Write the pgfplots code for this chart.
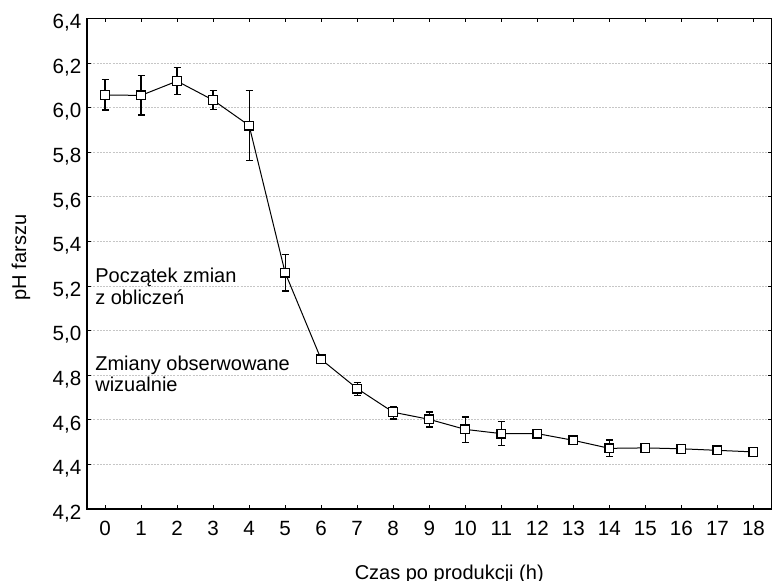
\documentclass[border=0pt]{standalone}
\usepackage{pgfplots}
\pgfplotsset{compat=1.18}
\usepackage{pgfplotstable}
\usepackage{fontspec}
\setmainfont{Liberation Sans}

\pgfplotstableread{
x y ep em
0 6.057 0.068 0.067
1 6.055 0.088 0.088
2 6.119 0.060 0.059
3 6.034 0.043 0.042
4 5.920 0.157 0.158
5 5.260 0.080 0.082
6 4.871 0.012 0.012
7 4.740 0.028 0.032
8 4.634 0.023 0.030
9 4.602 0.033 0.034
10 4.557 0.056 0.057
11 4.538 0.055 0.052
12 4.538 0.010 0.010
13 4.508 0.008 0.008
14 4.472 0.037 0.037
15 4.474 0.010 0.010
16 4.470 0.005 0.005
17 4.463 0.005 0.005
18 4.456 0.005 0.005
}\datatable

\begin{document}
\begin{tikzpicture}
\begin{axis}[
  scale only axis,
  width=342.25pt, height=245.25pt,
  xmin=-0.5, xmax=18.5,
  ymin=4.2, ymax=6.4,
  xtick={0,1,...,18},
  ytick={4.2,4.4,4.6,4.8,5.0,5.2,5.4,5.6,5.8,6.0,6.2,6.4},
  /pgf/number format/assume math mode=true,
  yticklabel style={/pgf/number format/fixed, /pgf/number format/fixed zerofill, /pgf/number format/precision=1, /pgf/number format/use comma},
  tick align=inside,
  major tick length=2pt,
  tick style={black, line width=0.5pt},
  axis line style={black, line width=0.6pt},
  ymajorgrids,
  grid style={gray!45, line width=0.5pt, dash pattern=on 1pt off 0.6pt},
  tick label style={font=\fontsize{10.3}{12}\selectfont},
  xticklabel style={anchor=base, yshift=-13.5pt, inner sep=0pt},
  yticklabel style={anchor=base east, inner sep=0pt, xshift=-2.65pt, yshift=-5.1pt},
  xlabel={Czas po produkcji (h)},
  ylabel={pH farszu},
  label style={font=\fontsize{10}{12}\selectfont},
  every axis x label/.style={at={(axis description cs:0.5,0)}, anchor=base, yshift=-35.15pt, xshift=10pt},
  every axis y label/.style={at={(axis description cs:-0.0964,0.513)}, anchor=center, rotate=90},
]
\addplot[black, line width=0.5pt, mark=square*, mark size=2.2pt,
  mark options={fill=white, draw=black, line width=0.6pt},
  error bars/.cd, y dir=both, y explicit,
  error bar style={black, line width=0.6pt},
  error mark options={rotate=90, mark size=1.75pt, black, line width=0.6pt}]
  table[x=x, y=y, y error plus=ep, y error minus=em] {\datatable};
\node[anchor=base west, inner sep=0pt, font=\fontsize{10}{12}\selectfont] at (axis cs:-0.28,5.215) {Początek zmian};
\node[anchor=base west, inner sep=0pt, font=\fontsize{10}{12}\selectfont] at (axis cs:-0.28,5.115) {z obliczeń};
\node[anchor=base west, inner sep=0pt, font=\fontsize{10}{12}\selectfont] at (axis cs:-0.28,4.823) {Zmiany obserwowane};
\node[anchor=base west, inner sep=0pt, font=\fontsize{10}{12}\selectfont] at (axis cs:-0.28,4.727) {wizualnie};
\end{axis}
\pgfresetboundingbox
\path[use as bounding box] ([xshift=-43.5pt,yshift=-36pt]current axis.south west) rectangle ([xshift=0.25pt,yshift=9.25pt]current axis.north east);
\end{tikzpicture}
\end{document}
